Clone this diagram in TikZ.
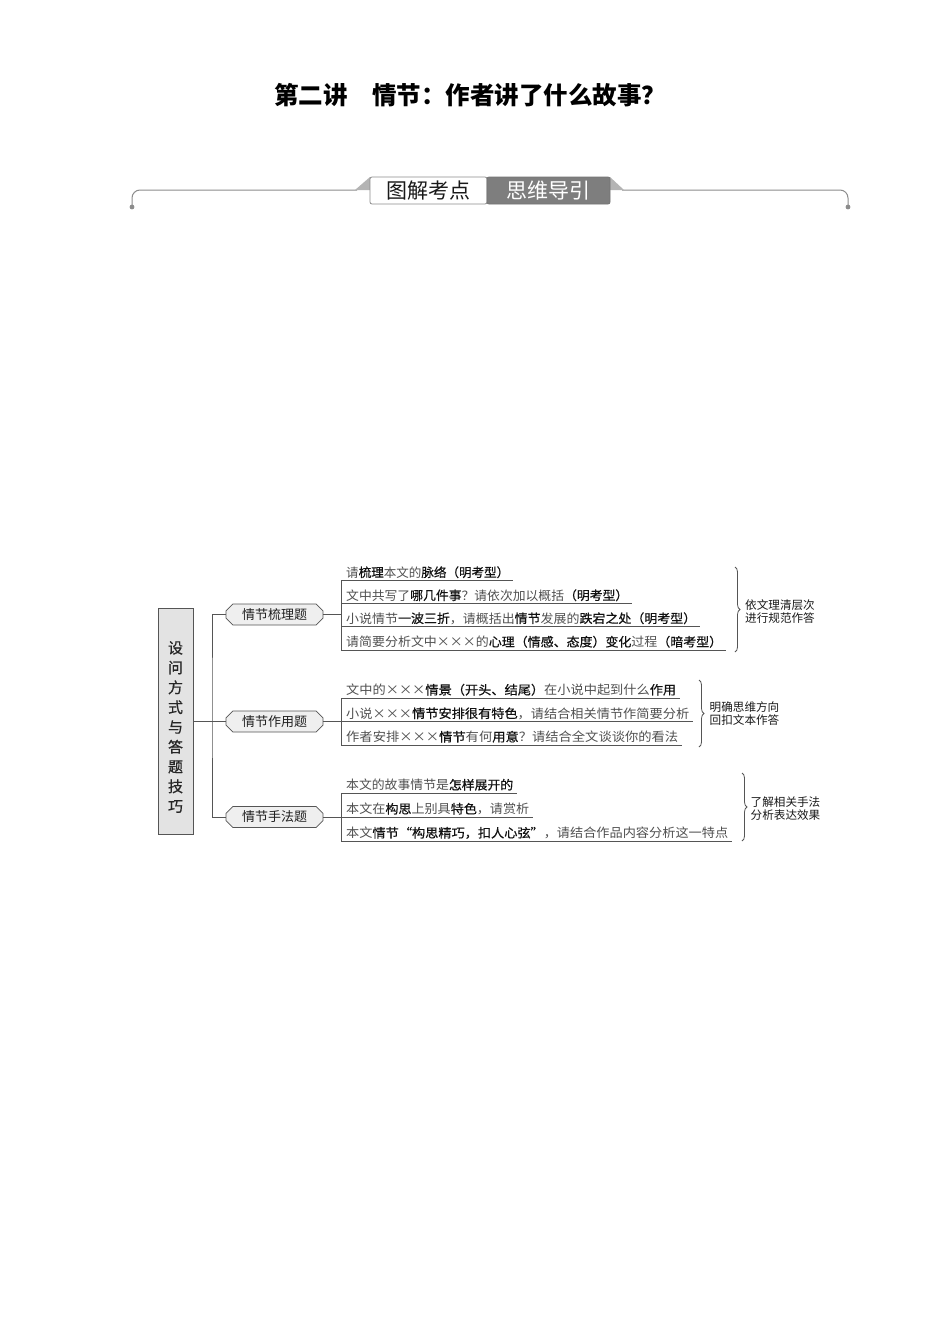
\documentclass[tikz,border=0pt]{standalone}
\usepackage{fontspec}
\usepackage{graphicx}
\usetikzlibrary{shapes.misc,decorations.pathreplacing}
\newfontfamily\cjk{Noto Sans CJK SC}
\newfontfamily\cjkmed{Noto Sans CJK SC}[FakeBold=0.6]
\definecolor{lin}{HTML}{555555}
\definecolor{regtxt}{HTML}{505050}
\definecolor{boldtxt}{HTML}{111111}
\definecolor{boxfill}{HTML}{EFEFEF}
\definecolor{mainfill}{HTML}{E3E3E3}
\definecolor{hdrline}{HTML}{8C8C8C}
\definecolor{tabgray}{HTML}{7E7E7E}
\definecolor{eargray}{HTML}{B4B4B4}
\newcommand\rgt[1]{{\color{regtxt}#1}}
\newcommand\bdt[1]{{\cjkmed\color{boldtxt}#1}}
\newcommand\Xx{\makebox[1em]{×}}
\newcommand\fitto[2]{\resizebox{#1pt}{\height}{#2}}
\tikzset{
  itemtext/.style={anchor=base west, inner sep=0pt, font=\cjk\fontsize{12.5}{14}\selectfont},
  uline/.style={draw=lin, line width=0.8pt},
  conn/.style={draw=lin, line width=0.9pt},
  branchbox/.style={chamfered rectangle, chamfered rectangle xsep=4pt, draw=lin, line width=0.8pt,
    fill=boxfill, minimum width=97pt, minimum height=21pt, inner sep=0pt,
    font=\cjk\fontsize{13}{15}\selectfont, text=black!88},
  mainbox/.style={rectangle, draw=lin, line width=1pt, fill=mainfill, minimum width=35pt, minimum height=226pt, inner sep=0pt},
  bracelabel/.style={anchor=west, align=left, inner sep=0pt, font=\cjk\fontsize{11.6}{13.6}\selectfont, text=black!90},
  bracedec/.style={draw=lin, line width=0.8pt, decorate, decoration={brace, amplitude=5pt}}
}
\begin{document}
\begin{tikzpicture}[x=1pt, y=-1pt, font=\cjk]
\fill[white] (0,0) rectangle (950,1344);
\useasboundingbox (0,0) rectangle (950,1344);

% title
\node[font=\cjk\bfseries\fontsize{24.5}{28}\selectfont, text=black] (title) at (470,95) {第二讲　情节：作者讲了什么故事？};

% header band
\draw[hdrline, line width=1pt, rounded corners=8pt] (132,207) -- (132,190) -- (357,190);
\draw[hdrline, line width=1pt, rounded corners=8pt] (622,190) -- (848,190) -- (848,207);
\fill[hdrline] (132,207) circle (2.4);
\fill[hdrline] (848,207) circle (2.4);
\fill[eargray] (355,190) -- (370,177) -- (370,190) -- cycle;
\fill[eargray] (610,177) -- (624,190) -- (610,190) -- cycle;
\draw[draw=black!45, fill=white, line width=0.8pt, rounded corners=2pt] (370,177) rectangle (487,204);
\draw[draw=black!55, fill=tabgray, line width=0.8pt, rounded corners=2pt] (487,177) rectangle (610,204);
\node[font=\cjk\fontsize{21}{24}\selectfont, text=black!90] (tabA) at (428.5,190.5) {图解考点};
\node[font=\cjk\fontsize{21}{24}\selectfont, text=white] (tabB) at (548.5,190.5) {思维导引};

% main box
\node[mainbox] (main) at (175.5,721.5) {};
\node[font=\cjkmed\fontsize{15}{19.8}\selectfont, align=center, text=black!85, inner sep=0pt] (maintext) at (175.5,727) {设\\问\\方\\式\\与\\答\\题\\技\\巧};

% branch boxes
\node[branchbox] (b1) at (274.5,614.5) {情节梳理题};
\node[branchbox] (b2) at (274.5,721.5) {情节作用题};
\node[branchbox] (b3) at (274.5,817) {情节手法题};

\coordinate (trunk) at (212,700);
\draw[conn] (b1.west) -| (trunk) |- (b3.west);
\draw[conn] (main.east |- b2.west) -- (b2.west);

% group 1
\coordinate (g1a) at (341,580.5); \coordinate (g1ae) at (513,580.5);
\coordinate (g1b) at (341,603.5); \coordinate (g1be) at (632,603.5);
\coordinate (g1c) at (341,626.5); \coordinate (g1ce) at (700,626.5);
\coordinate (g1d) at (341,650);   \coordinate (g1de) at (726,650);
\coordinate (g1m) at (341,614.5);
\draw[conn] (b1.east) -- (g1m);
\draw[uline] (g1a) -- (g1d);
\draw[uline] (g1a) -- (g1ae);
\draw[uline] (g1b) -- (g1be);
\draw[uline] (g1c) -- (g1ce);
\draw[uline] (g1d) -- (g1de);
\node[itemtext] (t1a) at (346,577) {\fitto{163}{\rgt{请}\bdt{梳理}\rgt{本文的}\bdt{脉络（明考型）}}};
\node[itemtext] (t1b) at (346,600) {\fitto{282}{\rgt{文中共写了}\bdt{哪几件事}\rgt{？请依次加以概括}\bdt{（明考型）}}};
\node[itemtext] (t1c) at (346,623) {\fitto{350}{\rgt{小说情节}\bdt{一波三折}\rgt{，请概括出}\bdt{情节}\rgt{发展的}\bdt{跌宕之处（明考型）}}};
\node[itemtext] (t1d) at (346,646.5) {\fitto{376}{\rgt{请简要分析文中\Xx\Xx\Xx 的}\bdt{心理（情感、态度）变化}\rgt{过程}\bdt{（暗考型）}}};
\coordinate (br1s) at (735,567); \coordinate (br1e) at (735,652);
\draw[bracedec] (br1s) -- (br1e);
\node[bracelabel] (L1) at (745,611.5) {依文理清层次\\进行规范作答};

% group 2
\coordinate (g2a) at (341,698);   \coordinate (g2ae) at (680,698);
\coordinate (g2b) at (341,721.5); \coordinate (g2be) at (693,721.5);
\coordinate (g2c) at (341,745);   \coordinate (g2ce) at (682,745);
\draw[conn] (b2.east) -- (g2b);
\draw[uline] (g2a) -- (g2c);
\draw[uline] (g2a) -- (g2ae);
\draw[uline] (g2b) -- (g2be);
\draw[uline] (g2c) -- (g2ce);
\node[itemtext] (t2a) at (346,694.5) {\fitto{330}{\rgt{文中的\Xx\Xx\Xx}\bdt{情景（开头、结尾）}\rgt{在小说中起到什么}\bdt{作用}}};
\node[itemtext] (t2b) at (346,718) {\fitto{343}{\rgt{小说\Xx\Xx\Xx}\bdt{情节安排很有特色}\rgt{，请结合相关情节作简要分析}}};
\node[itemtext] (t2c) at (346,741.5) {\fitto{332}{\rgt{作者安排\Xx\Xx\Xx}\bdt{情节}\rgt{有何}\bdt{用意}\rgt{？请结合全文谈谈你的看法}}};
\coordinate (br2s) at (699,680); \coordinate (br2e) at (699,747);
\draw[bracedec] (br2s) -- (br2e);
\node[bracelabel] (L2) at (709.5,713.5) {明确思维方向\\回扣文本作答};

% group 3
\coordinate (g3a) at (341,793); \coordinate (g3ae) at (517,793);
\coordinate (g3b) at (341,817); \coordinate (g3be) at (533,817);
\coordinate (g3c) at (341,841); \coordinate (g3ce) at (732,841);
\draw[conn] (b3.east) -- (g3b);
\draw[uline] (g3a) -- (g3c);
\draw[uline] (g3a) -- (g3ae);
\draw[uline] (g3b) -- (g3be);
\draw[uline] (g3c) -- (g3ce);
\node[itemtext] (t3a) at (346,789.5) {\fitto{167}{\rgt{本文的故事情节是}\bdt{怎样展开的}}};
\node[itemtext] (t3b) at (346,813.5) {\fitto{183}{\rgt{本文在}\bdt{构思}\rgt{上别具}\bdt{特色}\rgt{，请赏析}}};
\node[itemtext] (t3c) at (346,837.5) {\fitto{382}{\rgt{本文}\bdt{情节“构思精巧，扣人心弦”}\rgt{，请结合作品内容分析这一特点}}};
\coordinate (br3s) at (742,773); \coordinate (br3e) at (742,841);
\draw[bracedec] (br3s) -- (br3e);
\node[bracelabel] (L3) at (750.5,808.5) {了解相关手法\\分析表达效果};
\end{tikzpicture}
\end{document}
